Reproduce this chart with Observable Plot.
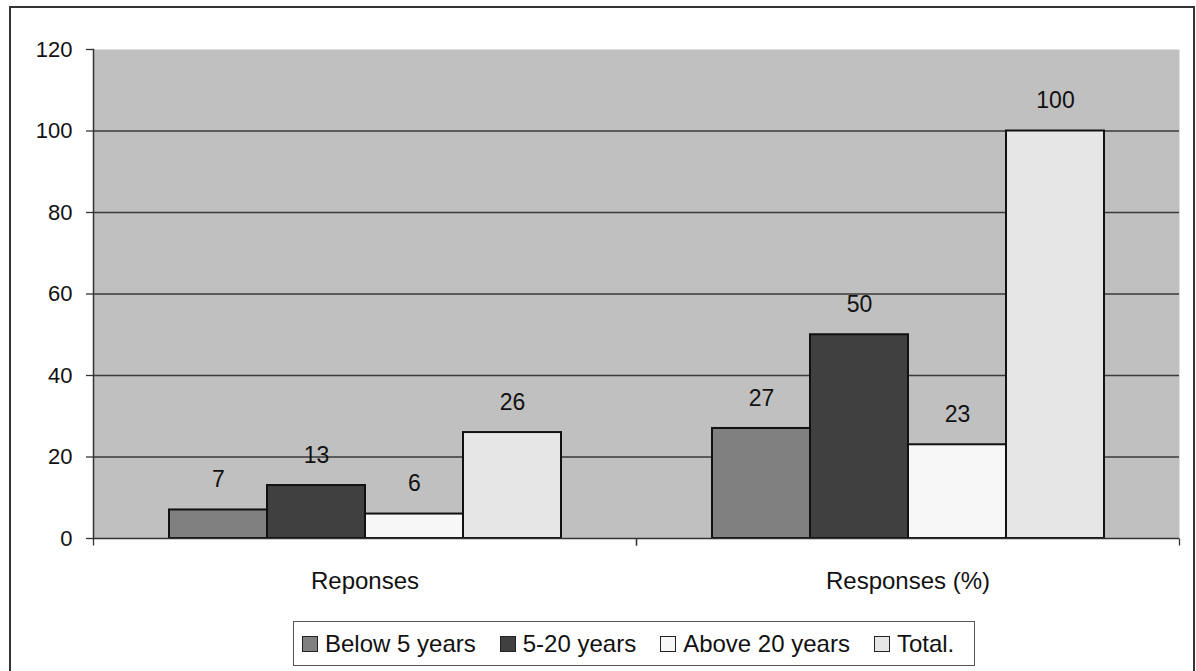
<!DOCTYPE html>
<html>
<head>
<meta charset="utf-8">
<script src="https://cdn.jsdelivr.net/npm/d3@7"></script>
<script src="https://cdn.jsdelivr.net/npm/@observablehq/plot@0.6"></script>
<style>
  body { margin: 0; background: #fff; font-family: "Liberation Sans", Arial, sans-serif; }
  #wrap { position: relative; width: 1196px; height: 671px; overflow: hidden; }
  #border { position: absolute; left: 9px; top: 6px; width: 1186px; height: 720px; border: 2px solid #333; box-sizing: border-box; }
  #chart { position: absolute; left: 0; top: 0; }
  #legend { position: absolute; left: 293px; top: 621px; width: 682px; height: 45px; border: 1.5px solid #555;
            box-sizing: border-box; display: flex; align-items: center; padding-left: 8px; gap: 24px;
            font-size: 24px; color: #111; white-space: nowrap; }
  .item { display: flex; align-items: center; }
  .sw { width: 16px; height: 16px; border: 1.5px solid #222; box-sizing: border-box; margin-right: 7px; }
</style>
</head>
<body>
<div id="wrap">
  <div id="border"></div>
  <div id="chart"></div>
  <div id="legend"></div>
</div>
<script>
const categories = ["Reponses", "Responses (%)"];
const series = ["Below 5 years", "5-20 years", "Above 20 years", "Total."];
const reponsesValues = [7, 13, 6, 26];
const responsesPctValues = [27, 50, 23, 100];
const yTicks = [0, 20, 40, 60, 80, 100, 120];
const seriesColors = ["#808080", "#404040", "#f7f7f7", "#e6e6e6"];

const valuesByCategory = [reponsesValues, responsesPctValues];
const data = categories.flatMap((c, i) =>
  series.map((s, j) => ({ cat: c, series: s, value: valuesByCategory[i][j] }))
);

const tickSymbol = { draw(ctx) { ctx.moveTo(0, 0); ctx.lineTo(0, 7); } };

const chart = Plot.plot({
  width: 1196,
  height: 600,
  marginLeft: 93,
  marginRight: 17,
  marginTop: 49,
  marginBottom: 62,
  style: { fontFamily: "'Liberation Sans', Arial, sans-serif", fontSize: "22px", color: "#111", background: "transparent" },
  fx: { domain: categories, padding: 0, label: null },
  x: { domain: series, paddingInner: 0, paddingOuter: 0.76, axis: null },
  y: { domain: [0, 120], label: null },
  color: { domain: series, range: seriesColors },
  marks: [
    Plot.frame({ fill: "#c0c0c0", stroke: "none", facet: "super" }),
    Plot.ruleY(yTicks.filter(v => v > 0 && v < 120), { stroke: "#3a3a3a", strokeWidth: 1.3 }),
    Plot.barY(data, { fx: "cat", x: "series", y: "value", fill: "series", stroke: "#111", strokeWidth: 2 }),
    Plot.text(data, { fx: "cat", x: "series", y: "value", text: d => String(d.value), dy: -30, fontSize: 23, fill: "#111" }),
    Plot.ruleY([0], { stroke: "#333", strokeWidth: 1.5 }),
    Plot.frame({ anchor: "left", stroke: "#333", strokeWidth: 1.5, facet: "super" }),
    Plot.dot(categories, { fx: d => d, frameAnchor: "bottom-left", symbol: tickSymbol, stroke: "#333", strokeWidth: 1.3 }),
    Plot.dot(categories, { fx: d => d, frameAnchor: "bottom-right", symbol: tickSymbol, stroke: "#333", strokeWidth: 1.3 }),
    Plot.axisY({ ticks: yTicks, tickSize: 7, tickPadding: 14, fontSize: 22, stroke: "#333", strokeWidth: 1.3, label: null }),
    Plot.axisFx({ anchor: "bottom", tickSize: 0, tickPadding: 33, fontSize: 24, label: null })
  ]
});
document.getElementById("chart").appendChild(chart);

const legend = document.getElementById("legend");
series.forEach((s, i) => {
  const item = document.createElement("div");
  item.className = "item";
  const sw = document.createElement("div");
  sw.className = "sw";
  sw.style.background = seriesColors[i];
  const label = document.createElement("span");
  label.textContent = s;
  item.appendChild(sw);
  item.appendChild(label);
  legend.appendChild(item);
});
</script>
</body>
</html>
